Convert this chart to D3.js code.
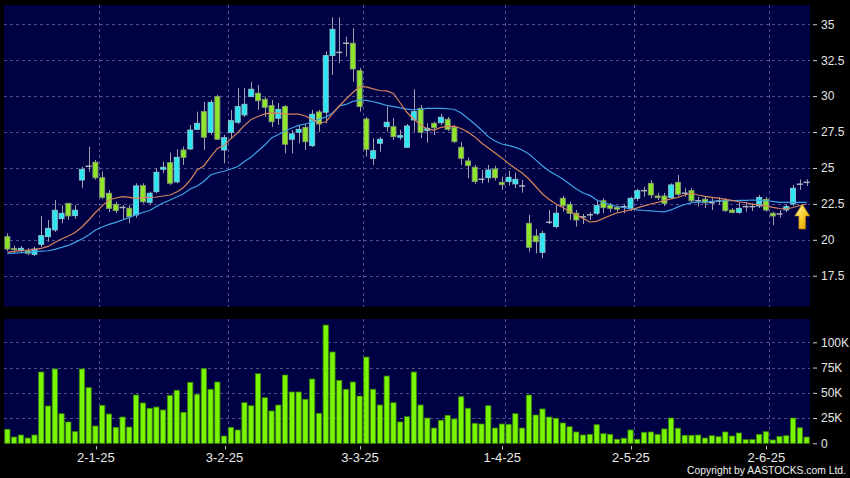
<!DOCTYPE html>
<html><head><meta charset="utf-8">
<script src="https://cdn.jsdelivr.net/npm/d3@7"></script>
<style>html,body{margin:0;padding:0;background:#000;}svg{display:block}</style>
</head><body><svg id="c" width="850" height="478"></svg>
<script>
const categories=["10-12-24","11-12-24","12-12-24","13-12-24","16-12-24","17-12-24","18-12-24","19-12-24","20-12-24","23-12-24","24-12-24","27-12-24","30-12-24","31-12-24",
"2-1-25","3-1-25","6-1-25","7-1-25","8-1-25","9-1-25","10-1-25","13-1-25","14-1-25","15-1-25","16-1-25","17-1-25","20-1-25","21-1-25","22-1-25","23-1-25","24-1-25","27-1-25","28-1-25",
"3-2-25","4-2-25","5-2-25","6-2-25","7-2-25","10-2-25","11-2-25","12-2-25","13-2-25","14-2-25","17-2-25","18-2-25","19-2-25","20-2-25","21-2-25","24-2-25","25-2-25","26-2-25","27-2-25","28-2-25",
"3-3-25","4-3-25","5-3-25","6-3-25","7-3-25","10-3-25","11-3-25","12-3-25","13-3-25","14-3-25","17-3-25","18-3-25","19-3-25","20-3-25","21-3-25","24-3-25","25-3-25","26-3-25","27-3-25","28-3-25","31-3-25",
"1-4-25","2-4-25","3-4-25","7-4-25","8-4-25","9-4-25","10-4-25","11-4-25","14-4-25","15-4-25","16-4-25","17-4-25","22-4-25","23-4-25","24-4-25","25-4-25","28-4-25","29-4-25","30-4-25",
"2-5-25","6-5-25","7-5-25","8-5-25","9-5-25","12-5-25","13-5-25","14-5-25","15-5-25","16-5-25","19-5-25","20-5-25","21-5-25","22-5-25","23-5-25","26-5-25","27-5-25","28-5-25","29-5-25","30-5-25",
"2-6-25","3-6-25","4-6-25","5-6-25","6-6-25","9-6-25"];

const openP=[20.22,19.40,19.24,19.24,18.99,19.69,20.22,20.69,21.47,22.54,
21.68,24.16,25.12,25.40,24.32,23.24,22.47,22.25,22.20,21.73,
23.77,22.61,23.35,24.91,25.37,24.03,26.25,26.32,27.69,28.92,
27.48,29.96,26.25,27.48,28.18,28.69,29.96,30.20,29.78,29.34,
28.46,29.27,27.00,27.48,27.83,26.55,28.90,28.88,32.82,33.04,
33.68,33.68,31.77,28.41,25.67,26.72,27.87,27.87,27.14,26.44,
28.34,29.15,27.60,28.11,28.15,28.39,27.83,26.44,25.49,25.05,
24.21,24.32,24.93,24.00,24.05,23.89,23.75,21.15,20.27,19.13,
21.22,20.92,22.89,22.47,21.85,21.60,21.74,21.85,22.72,22.42,
22.24,22.30,22.20,22.89,23.42,23.93,23.05,23.05,22.93,24.00,
23.24,23.42,22.72,22.82,22.58,22.70,22.77,22.07,21.91,22.31,
22.31,22.35,22.82,21.85,21.80,22.08,22.50,23.87,24.00];
const highP=[20.45,19.60,19.57,19.43,19.52,21.66,21.38,22.77,22.40,22.56,
22.42,25.09,26.48,25.56,24.74,23.47,22.65,22.42,22.42,23.93,
23.93,23.35,24.98,25.44,26.07,26.30,26.48,27.99,28.92,29.61,
29.73,30.08,27.30,29.04,30.57,30.57,31.00,30.77,29.94,29.73,
29.52,29.38,27.64,27.99,28.06,29.04,29.04,33.10,35.49,35.49,
34.14,34.72,31.96,28.55,27.07,27.16,29.27,28.48,27.64,28.06,
30.48,29.38,28.11,28.22,28.76,28.55,27.99,26.79,25.74,25.21,
24.86,25.21,25.14,24.39,24.81,24.67,24.16,21.73,20.75,20.64,
22.07,22.42,23.05,22.65,22.07,21.80,21.94,22.72,22.89,22.56,
22.38,22.49,23.00,23.54,23.70,24.16,23.26,23.26,23.93,24.51,
23.59,23.61,23.00,22.98,22.89,22.98,22.91,22.21,22.63,22.65,
22.56,23.12,22.98,21.96,22.07,22.47,23.82,24.21,24.21];
const lowP=[19.22,19.10,19.08,18.95,18.87,19.50,19.87,20.55,21.15,21.38,
21.45,23.59,24.74,24.18,22.84,21.94,21.85,21.38,21.15,21.52,
22.54,22.42,23.24,24.63,23.82,23.93,25.21,26.25,27.64,26.25,
27.30,26.95,25.33,27.09,28.06,28.55,29.94,29.04,28.55,27.85,
27.99,26.02,26.02,26.72,26.25,26.46,27.52,28.11,31.47,32.29,
32.75,31.00,28.92,25.79,25.21,26.13,27.53,26.95,26.95,26.39,
27.53,27.07,26.76,27.29,27.99,27.57,26.74,25.21,24.28,23.89,
23.93,23.98,24.12,23.47,23.77,23.59,23.28,19.17,19.06,18.71,
21.10,20.80,21.96,21.38,20.92,21.10,21.38,21.73,21.85,21.94,
21.96,21.85,22.00,22.70,23.00,22.89,22.77,22.35,22.84,23.05,
23.00,22.56,22.31,22.21,22.07,22.42,21.94,21.85,21.80,21.96,
22.00,22.21,21.96,21.03,21.56,21.94,22.35,23.47,23.75];
const closeP=[19.36,19.32,19.41,19.06,19.36,20.29,20.80,22.06,21.85,21.66,
22.06,24.91,25.12,24.32,22.96,22.19,22.03,22.25,21.61,23.75,
22.65,23.24,24.70,25.05,23.94,25.74,25.74,27.64,28.11,27.14,
29.57,27.00,27.11,28.29,29.27,29.43,30.48,29.68,29.22,28.22,
29.08,26.65,27.37,27.69,26.83,28.74,28.06,32.82,34.65,33.04,
33.68,31.89,29.27,26.30,26.20,27.00,28.18,27.18,27.25,27.92,
28.92,27.48,27.76,27.80,28.53,27.69,26.83,25.67,25.16,24.05,
24.21,24.86,24.32,23.84,24.35,24.21,23.75,19.48,19.87,20.45,
21.22,21.85,22.38,21.85,21.38,21.60,21.74,22.38,22.24,22.19,
22.13,22.30,22.89,23.42,23.42,23.12,22.93,22.54,23.82,23.17,
23.24,22.72,22.72,22.58,22.58,22.70,22.03,21.91,22.19,22.31,
22.31,22.95,22.07,21.66,21.80,22.31,23.59,23.87,24.00];
const volumeK=[13.9,6.2,8.2,5.2,8.2,70.6,36.9,73.6,29.3,21.1,
11.5,73.6,55.1,17.1,37.6,29.0,15.8,26.0,16.1,47.8,
39.9,34.7,35.9,33.0,47.5,52.5,30.7,60.4,48.5,73.9,
53.5,60.7,7.2,15.8,13.2,40.2,37.2,68.9,45.1,32.0,
37.9,67.6,50.8,50.8,43.6,63.7,29.7,117.1,90.4,62.4,
53.5,60.7,46.8,85.4,53.5,37.9,66.6,40.2,21.1,26.3,
70.6,37.9,25.0,15.1,22.8,27.7,24.1,46.1,34.7,19.8,
19.1,37.2,15.1,19.1,18.8,29.3,15.1,47.8,28.0,34.0,
26.0,24.8,20.1,16.4,11.2,8.2,8.9,18.4,9.5,8.9,
4.0,5.0,13.2,4.0,10.9,11.2,8.9,14.2,25.0,14.9,
7.9,7.9,8.2,5.2,7.5,6.5,11.2,7.2,10.2,3.6,
3.6,8.9,11.5,3.3,6.9,7.5,25.0,15.4,6.2];
const ma10=[19.12,19.19,19.26,19.29,19.34,19.40,19.54,19.82,20.06,20.27,
20.51,20.89,21.38,21.90,22.36,22.77,22.91,23.00,22.96,22.89,
22.93,22.96,22.98,23.05,23.12,23.33,23.64,24.16,24.86,25.14,
25.77,26.36,26.58,27.02,27.47,27.96,28.38,28.58,28.76,28.83,
28.81,28.76,28.74,28.74,28.62,28.38,28.13,28.20,28.76,29.31,
29.80,30.25,30.64,30.64,30.50,30.39,30.36,30.18,29.52,28.86,
28.41,27.99,27.71,27.64,27.82,27.90,27.89,27.75,27.51,27.16,
26.74,26.39,26.04,25.70,25.31,24.97,24.65,24.23,23.71,23.19,
22.81,22.49,22.25,21.97,21.73,21.49,21.24,21.28,21.49,21.69,
21.87,21.97,22.08,22.22,22.36,22.49,22.60,22.74,22.84,22.95,
23.12,23.24,23.12,23.02,22.96,22.90,22.82,22.74,22.65,22.58,
22.49,22.43,22.36,22.26,22.18,22.15,22.25,22.39,22.49];
const ma20=[19.05,19.07,19.10,19.14,19.18,19.21,19.24,19.33,19.47,19.61,
19.82,20.06,20.34,20.69,20.89,21.07,21.21,21.38,21.56,21.75,
21.90,22.04,22.32,22.56,22.77,22.98,23.20,23.54,23.75,24.06,
24.51,24.67,24.77,24.93,25.10,25.45,25.77,26.18,26.60,27.09,
27.33,27.57,27.78,27.96,28.06,28.20,28.38,28.55,28.83,29.31,
29.42,29.63,29.73,29.70,29.61,29.49,29.35,29.27,29.18,29.09,
29.04,29.07,29.15,29.15,29.15,29.12,29.07,28.83,28.44,28.06,
27.64,27.18,26.88,26.67,26.57,26.43,26.25,25.97,25.56,25.14,
24.79,24.51,24.23,23.89,23.54,23.26,23.09,22.77,22.60,22.46,
22.32,22.25,22.15,22.08,22.04,22.01,21.97,21.94,22.08,22.29,
22.46,22.59,22.62,22.65,22.67,22.70,22.72,22.72,22.74,22.75,
22.77,22.75,22.72,22.68,22.61,22.60,22.60,22.60,22.60];
const priceTicks=[17.5,20,22.5,25,27.5,30,32.5,35];
const volumeTicks=[0,25,50,75,100];
const dateTicks=["2-1-25","3-2-25","3-3-25","1-4-25","2-5-25","2-6-25"];

const rows=categories.map((d,i)=>({d,o:openP[i],h:highP[i],l:lowP[i],c:closeP[i],v:volumeK[i],m1:ma10[i],m2:ma20[i]}));

const svg=d3.select("#c");
const FONT='"Liberation Sans", Arial, sans-serif';
const L=4,R=810,pTop=5,pBot=306.5,vTop=319,vBot=443.3;
const x=d3.scaleBand().domain(categories).range([L,R]).padding(0);
const bw=x.bandwidth();
const cx=d=>x(d)+bw/2;
const y=d3.scaleLinear().domain([15.36,36.34]).range([pBot,pTop]);
const yv=d3.scaleLinear().domain([0,123.1]).range([vBot,vTop]);

svg.append("rect").attr("width",850).attr("height",478).attr("fill","#000");
const bg="#000044";
svg.append("rect").attr("x",L).attr("y",pTop).attr("width",R-L).attr("height",pBot-pTop).attr("fill",bg);
svg.append("rect").attr("x",L).attr("y",vTop).attr("width",R-L).attr("height",vBot-vTop).attr("fill",bg);

const gridC="#50508a";
const grid=svg.append("g").attr("stroke",gridC).attr("stroke-width",1).attr("stroke-dasharray","3,3").attr("shape-rendering","crispEdges");
grid.selectAll(".hp").data(priceTicks).join("line").attr("x1",L).attr("x2",R).attr("y1",d=>Math.round(y(d))+0.5).attr("y2",d=>Math.round(y(d))+0.5);
grid.selectAll(".hv").data(volumeTicks.filter(d=>d>0)).join("line").attr("x1",L).attr("x2",R).attr("y1",d=>Math.round(yv(d))+0.5).attr("y2",d=>Math.round(yv(d))+0.5);
grid.selectAll(".vp").data(dateTicks).join("line").attr("x1",d=>Math.round(x(d))+0.5).attr("x2",d=>Math.round(x(d))+0.5).attr("y1",pTop).attr("y2",pBot);
grid.selectAll(".vv").data(dateTicks).join("line").attr("x1",d=>Math.round(x(d))+0.5).attr("x2",d=>Math.round(x(d))+0.5).attr("y1",vTop).attr("y2",vBot);

// volume bars
const vw=5.2;
svg.append("g").selectAll("rect").data(rows).join("rect")
 .attr("x",d=>cx(d.d)-vw/2).attr("width",vw)
 .attr("y",d=>yv(d.v)).attr("height",d=>vBot-yv(d.v))
 .attr("fill","#7af500").attr("stroke","#3c8a0c").attr("stroke-width",0.8);

// candles
const cg=svg.append("g");
const isDoji=d=>Math.abs(d.c-d.o)<0.01;
cg.selectAll("line.w").data(rows).join("line")
 .attr("x1",d=>Math.round(cx(d.d))+0.5).attr("x2",d=>Math.round(cx(d.d))+0.5)
 .attr("y1",d=>y(d.h)).attr("y2",d=>y(d.l))
 .attr("stroke","#a0a0ac").attr("stroke-width",1);
const bodyW=5;
cg.selectAll("rect.b").data(rows.filter(d=>!isDoji(d))).join("rect")
 .attr("x",d=>cx(d.d)-bodyW/2).attr("width",bodyW)
 .attr("y",d=>y(Math.max(d.o,d.c))).attr("height",d=>Math.max(1.2,Math.abs(y(d.o)-y(d.c))))
 .attr("fill",d=>d.c>d.o?"#2ee6f2":"#8ee62a")
 .attr("stroke",d=>d.c>d.o?"#8cc8d0":"#8aa070").attr("stroke-width",0.9);
cg.selectAll("line.dj").data(rows.filter(isDoji)).join("line")
 .attr("x1",d=>cx(d.d)-3).attr("x2",d=>cx(d.d)+3)
 .attr("y1",d=>y(d.c)).attr("y2",d=>y(d.c))
 .attr("stroke","#b0b0bc").attr("stroke-width",1.5);

// moving averages
const lineGen=k=>d3.line().x(d=>cx(d.d)).y(d=>y(d[k])).curve(d3.curveLinear);
svg.append("path").datum(rows).attr("d",lineGen("m2")).attr("fill","none").attr("stroke","#3ea2e6").attr("stroke-width",1.2);
svg.append("path").datum(rows).attr("d",lineGen("m1")).attr("fill","none").attr("stroke","#d4845c").attr("stroke-width",1.2);

// arrow
const defs=svg.append("defs");
const gr=defs.append("linearGradient").attr("id","ag").attr("x1","0").attr("y1","0").attr("x2","1").attr("y2","1");
gr.append("stop").attr("offset","0").attr("stop-color","#fff8b0");
gr.append("stop").attr("offset","0.5").attr("stop-color","#f8d030");
gr.append("stop").attr("offset","1").attr("stop-color","#d89000");
const last=rows[rows.length-1];
const ax=x(categories[categories.length-2])+bw-1, ay=y(last.m1);
svg.append("path")
 .attr("d",`M${ax},${ay} L${ax+7.5},${ay+12} L${ax+3.4},${ay+12} L${ax+3.4},${ay+25} L${ax-3.4},${ay+25} L${ax-3.4},${ay+12} L${ax-7.5},${ay+12} Z`)
 .attr("fill","url(#ag)").attr("stroke","#a87000").attr("stroke-width",0.6);

// y axes
const styleAxis=g=>{g.select(".domain").remove();g.selectAll(".tick line").attr("stroke","#d0d0d0");g.selectAll(".tick text").attr("fill","#e4e4e4").attr("font-size",12).attr("font-family",FONT);};
svg.append("g").attr("transform","translate(813,0)")
 .call(d3.axisRight(y).tickValues(priceTicks).tickSize(4).tickPadding(4).tickFormat(d=>String(d)))
 .call(styleAxis);
svg.append("g").attr("transform","translate(813,0)")
 .call(d3.axisRight(yv).tickValues(volumeTicks).tickSize(4).tickPadding(4).tickFormat(d=>d===0?"0":d+"K"))
 .call(styleAxis);

// x axis labels
const xg=svg.append("g");
xg.selectAll("line").data(dateTicks).join("line")
 .attr("x1",d=>Math.round(x(d)-3)+0.5).attr("x2",d=>Math.round(x(d)-3)+0.5)
 .attr("y1",446).attr("y2",449.5).attr("stroke","#c0c0c0");
xg.selectAll("text").data(dateTicks).join("text")
 .attr("x",d=>x(d)-3).attr("y",461.5).attr("text-anchor","middle")
 .attr("fill","#e8e8e8").attr("font-size",13).attr("font-family",FONT).text(d=>d);

svg.append("text").attr("x",846).attr("y",473.5).attr("text-anchor","end")
 .attr("fill","#f0f0f0").attr("font-size",10.5).attr("font-family",FONT)
 .attr("textLength",159).attr("lengthAdjust","spacingAndGlyphs")
 .text("Copyright by AASTOCKS.com Ltd.");
</script></body></html>
